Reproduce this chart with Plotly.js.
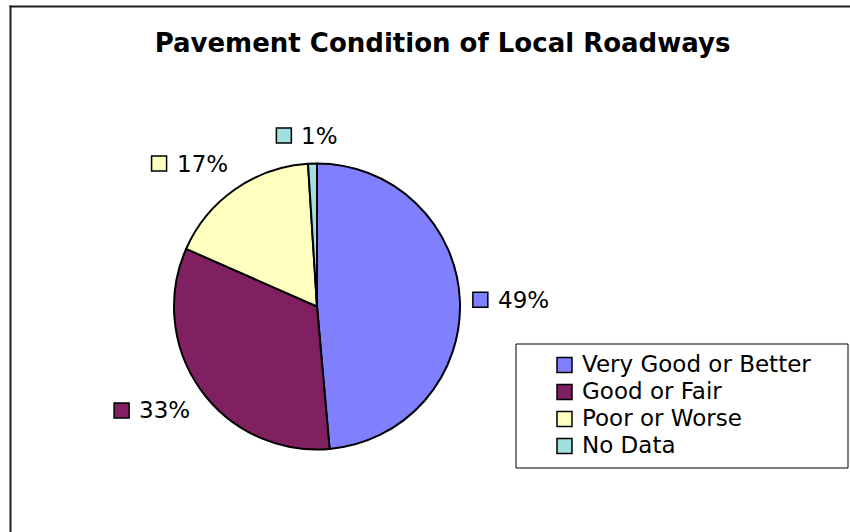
<!DOCTYPE html>
<html>
<head>
<meta charset="utf-8">
<script src="https://cdn.plot.ly/plotly-3.0.1.min.js"></script>
<style>html,body{margin:0;padding:0;background:#fff;}#chart{width:850px;height:532px;}</style>
</head>
<body>
<div id="chart"></div>
<script>
// ---- data ----
const categories = ["Very Good or Better", "Good or Fair", "Poor or Worse", "No Data"];
const shares = [48.6, 33.0, 17.4, 1.0];
const sliceColors = ["#8080FF", "#802060", "#FFFFC0", "#A0E0E0"];
const chartTitle = "Pavement Condition of Local Roadways";

// ---- geometry (pixels) ----
const W = 850, H = 532;
const cx = 317, cy = 306.5, R = 143;
const FONT = "DejaVu Sans";
const labelSize = 23;
const legendSize = 23;

const px2x = p => p / W;
const px2y = p => 1 - p / H;

const cvs = document.createElement("canvas").getContext("2d");
cvs.font = labelSize + "px '" + FONT + "'";

const total = shares.reduce((a, b) => a + b, 0);
const annotations = [];
const shapes = [];

// outer chart frame (only left and top edges are visible in the crop)
const frame = {color: "#1e1e1e", width: 2};
shapes.push({type: "line", xref: "paper", yref: "paper", layer: "below",
  x0: px2x(10.5), x1: px2x(10.5), y0: px2y(H + 5), y1: px2y(5.5), line: frame});
shapes.push({type: "line", xref: "paper", yref: "paper", layer: "below",
  x0: px2x(9.5), x1: px2x(W + 5), y0: px2y(6.5), y1: px2y(6.5), line: frame});

// ---- data labels (percent), placed outside the slices along their mid-angle ----
let cum = 0;
shares.forEach((v, i) => {
  const mid = (cum + v / 2) / total;
  cum += v;
  const th = mid * 2 * Math.PI;
  const s = Math.sin(th), c = Math.cos(th);
  const r = R + 13;
  const Px = cx + r * s, Py = cy - r * c;
  const txt = Math.round(v / total * 100) + "%";
  const tw = cvs.measureText(txt).width;
  const sq = 15, gap = 8, h = 18;
  const w = sq + gap + tw + 2;
  let left;
  if (s > 0.3) left = Px; else if (s < -0.3) left = Px - w; else left = Px - w / 2 - 5;
  let top;
  if (c > 0.3) top = Py - h - 6; else if (c < -0.3) top = Py + 4; else top = Py - h / 2;
  const mcy = top + h / 2;
  shapes.push({type: "rect", xref: "paper", yref: "paper",
    x0: px2x(left), x1: px2x(left + sq), y0: px2y(mcy + sq / 2), y1: px2y(mcy - sq / 2),
    fillcolor: sliceColors[i], line: {color: "#000", width: 1.5}});
  annotations.push({xref: "paper", yref: "paper", x: px2x(left + sq + gap), y: px2y(mcy),
    xanchor: "left", yanchor: "middle", showarrow: false, text: txt,
    font: {family: FONT, size: labelSize, color: "#000"}});
});

// ---- legend box ----
const lgLeft = 516, lgRight = 848, lgTop = 344, lgBottom = 468;
const lgFirst = 365, lgStep = 27, lgSqX = 557, lgSq = 15, lgTextX = 580;
shapes.push({type: "rect", xref: "paper", yref: "paper",
  x0: px2x(lgLeft), x1: px2x(lgRight), y0: px2y(lgBottom), y1: px2y(lgTop),
  fillcolor: "#fff", line: {color: "#000", width: 1}});
categories.forEach((name, i) => {
  const yc = lgFirst + i * lgStep;
  shapes.push({type: "rect", xref: "paper", yref: "paper",
    x0: px2x(lgSqX), x1: px2x(lgSqX + lgSq), y0: px2y(yc + lgSq / 2), y1: px2y(yc - lgSq / 2),
    fillcolor: sliceColors[i], line: {color: "#000", width: 1.5}});
  annotations.push({xref: "paper", yref: "paper", x: px2x(lgTextX), y: px2y(yc - 1),
    xanchor: "left", yanchor: "middle", showarrow: false, text: name,
    font: {family: FONT, size: legendSize, color: "#000"}});
});

const trace = {
  type: "pie",
  labels: categories,
  values: shares,
  sort: false,
  direction: "clockwise",
  rotation: 0,
  textinfo: "none",
  hoverinfo: "label+percent",
  showlegend: false,
  marker: {colors: sliceColors, line: {color: "#000", width: 2}},
  domain: {x: [px2x(cx - R), px2x(cx + R)], y: [px2y(cy + R), px2y(cy - R)]}
};

const layout = {
  width: W, height: H,
  margin: {l: 0, r: 0, t: 0, b: 0, pad: 0},
  paper_bgcolor: "#fff",
  plot_bgcolor: "#fff",
  font: {family: FONT, color: "#000"},
  title: {text: "<b>" + chartTitle + "</b>", x: px2x(442.5), xanchor: "center", xref: "paper",
    y: px2y(43), yanchor: "middle", yref: "paper",
    font: {family: FONT, size: 26, color: "#000"}},
  showlegend: false,
  shapes: shapes,
  annotations: annotations
};

Plotly.newPlot("chart", [trace], layout, {displayModeBar: false, responsive: false});
</script>
</body>
</html>
